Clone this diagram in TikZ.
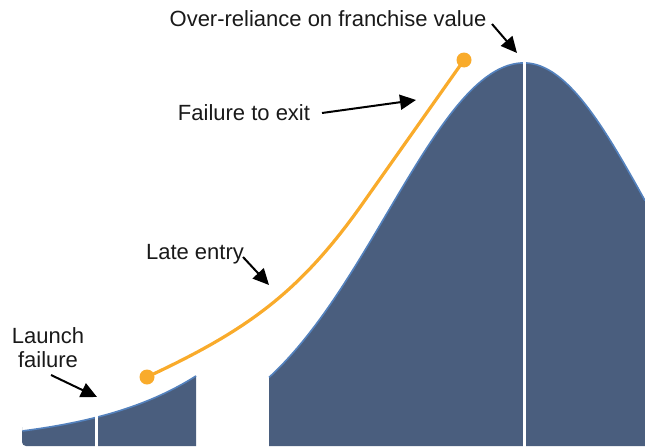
\documentclass[tikz,border=0pt]{standalone}
\usepackage{fontspec}
\setmainfont{Liberation Sans}
\usetikzlibrary{arrows.meta}
\definecolor{hill}{RGB}{74,94,126}
\definecolor{rim}{RGB}{84,130,190}
\definecolor{trail}{RGB}{249,171,43}
\tikzset{
  callout/.style={font=\fontsize{22}{24}\selectfont, inner sep=0pt, anchor=base, text=black!90},
  pointer/.style={black, line width=2pt, -{Triangle[length=16pt,width=15pt]}},
  divider/.style={white, line width=3pt},
  rimline/.style={rim, line width=1.6pt},
  trailline/.style={trail, line width=3.2pt},
  trailend/.style={circle, fill=trail, minimum size=15pt, inner sep=0pt},
}
% curve helpers (page coordinates: x right, y down, 1pt = 1px)
\def\lowcurve#1{445-14*exp(0.00917*((#1)-22))}
\def\bellL#1{445-382*exp(-0.5*(((#1)-524)/137)^2)}
\def\bellR#1{445-382*exp(-0.5*(((#1)-524)/128)^2)}
\begin{document}
\begin{tikzpicture}[x=1pt,y=-1pt]
\useasboundingbox (0,0) rectangle (645,447);

% small launch hump on the left
\fill[hill] (196,446) [rounded corners=4pt] -- (22,446) -- (22,431) [sharp corners]
  -- plot[domain=22:196,samples=40] (\x,{\lowcurve{\x}}) -- cycle;
\draw[rimline] plot[domain=22.5:196,samples=40] (\x,{\lowcurve{\x}});

% main bell-shaped hill
\fill[hill] (269,446)
  -- plot[domain=269:524,samples=80] (\x,{\bellL{\x}})
  -- plot[domain=524:645,samples=40] (\x,{\bellR{\x}})
  -- (645,446) -- cycle;
\draw[rimline] plot[domain=269:524,samples=80] (\x,{\bellL{\x}})
  -- plot[domain=524:645,samples=40] (\x,{\bellR{\x}});

% white dividers
\coordinate (d1top) at (96,414);
\coordinate (d1bot) at (96,447);
\coordinate (d2top) at (524,62);
\coordinate (d2bot) at (524,447);
\draw[divider] (d1top) -- (d1bot);
\draw[divider] (d2top) -- (d2bot);

% orange path with end dots
\node[trailend] (tstart) at (147,377) {};
\node[trailend] (tend) at (464,60) {};
\coordinate (tbend) at (363,203);
\draw[trailline] (tstart.center) .. controls (246.7,330.5) and (299.6,292.9) .. (tbend)
  -- (tend.center);

% labels
\node[callout] (over) at (328,26) {Over-reliance on franchise value};
\node[callout] (exit) at (244,120) {Failure to exit};
\node[callout] (late) at (195,259) {Late entry};
\node[callout, align=center] (launch) at (48,367) {Launch\\failure};

% pointers
\coordinate (overtail) at (492,24);
\coordinate (overtip) at (517,53);
\coordinate (exittail) at (322,113);
\coordinate (exittip) at (416,100);
\coordinate (latetail) at (243,257);
\coordinate (latetip) at (269,285);
\coordinate (launchtail) at (51,375);
\coordinate (launchtip) at (97,397);
\draw[pointer] (overtail) -- (overtip);
\draw[pointer] (exittail) -- (exittip);
\draw[pointer] (latetail) -- (latetip);
\draw[pointer] (launchtail) -- (launchtip);
\end{tikzpicture}
\end{document}
